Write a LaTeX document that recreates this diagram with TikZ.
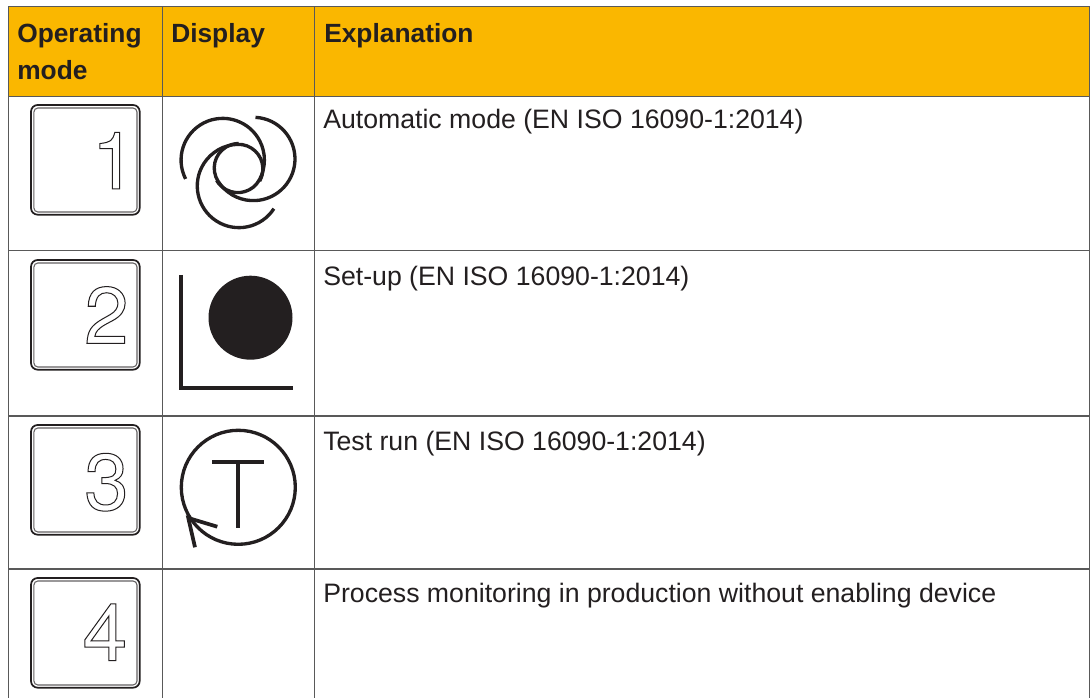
\documentclass[tikz,border=0pt]{standalone}
\usepackage{fontspec}
\usetikzlibrary{calc}
\setmainfont{Liberation Sans}
\newfontfamily\keyfont{TeX Gyre Heros}
\definecolor{hdr}{HTML}{FAB700}
\definecolor{ink}{HTML}{231F20}
\definecolor{gridc}{HTML}{595959}
\newcommand{\outl}[1]{\special{pdf:code q 1 Tr 0.75 w}#1\special{pdf:code Q}}
\tikzset{
  px/.style={x=0.75pt,y=-0.75pt},
  grid line/.style={draw=gridc,line width=1.1pt},
  head/.style={anchor=base west,inner sep=0pt,text=ink,font=\fontsize{19.75pt}{24pt}\selectfont\bfseries},
  body/.style={anchor=base west,inner sep=0pt,text=ink,font=\fontsize{20pt}{24pt}\selectfont},
  digit/.style={anchor=base east,inner sep=0pt,text=ink,font=\keyfont\fontsize{60pt}{60pt}\selectfont},
  keyout/.style={draw=ink,line width=1.3pt,rounded corners=5pt},
  keyin/.style={draw=ink!70,line width=0.8pt,rounded corners=3pt},
  sym/.style={draw=ink,line width=2.5pt},
}
\begin{document}
\begin{tikzpicture}[px]
\useasboundingbox (0,0) rectangle (1090,698);
\fill[white] (0,0) rectangle (1090,698);
\fill[hdr] (8.5,6.3) rectangle (1089.5,96.3);
\foreach \y in {6.3,96.3,250.7,416,569} \draw[grid line] (8.5,\y) -- (1089.5,\y);
\foreach \x in {8.5,162.3,314.7,1089.5} \draw[grid line] (\x,6.3) -- (\x,698);
\node[head] (h1) at (17,42.5) {Operating};
\node[head] (h1b) at (17,79.5) {mode};
\node[head] (h2) at (171,42.5) {Display};
\node[head] (h3) at (324,42.5) {Explanation};
\node[body] (t1) at (323,129) {Automatic mode (EN ISO 16090-1:2014)};
\node[body] (t2) at (323,286) {Set-up (EN ISO 16090-1:2014)};
\node[body] (t3) at (323,451) {Test run (EN ISO 16090-1:2014)};
\node[body] (t4) at (323,603) {Process monitoring in production without enabling device};
\foreach \y/\d/\bx/\by in {105/1/136.5/189, 260/2/129/343.3, 425/3/129/510, 578/4/127.5/660.7}{
  \draw[keyout] (31,\y) rectangle (139.7,\y+109.7);
  \draw[keyin] (33.9,\y+3) rectangle (137,\y+107);
  \node[digit] (k\d) at (\bx,\by) {\outl{\d}};
}
% automatic symbol: one spiral, repeated at 120 degree steps
\foreach \a in {0,-120,-240}{
  \begin{scope}[shift={(238.33,168.33)},x=1pt,y=1pt,rotate=\a]
    \draw[sym] ($(152:13.25pt)+(207:31.25pt)$) arc[start angle=207,end angle=-28,radius=31.25pt]
      arc[start angle=-28,end angle=-150,radius=18.4pt];
  \end{scope}
}
% set-up symbol
\coordinate (la) at (181,275); \coordinate (lb) at (181,387.7); \coordinate (lc) at (293,387.7);
\draw[sym,line width=3pt] (la) -- (lb) -- (lc);
\node[circle,fill=ink,draw=none,minimum size=63pt,inner sep=0pt] (dot) at (250.5,317.7) {};
% test run symbol
\node[circle,sym,minimum size=85.5pt,inner sep=0pt] (ring) at (238.3,487.3) {};
\coordinate (barl) at (212,461.7); \coordinate (barr) at (264,461.7);
\coordinate (stemt) at (238,461.7); \coordinate (stemb) at (238,528);
\coordinate (tipa) at (217.3,526.7); \coordinate (tip) at (188.3,518); \coordinate (tipb) at (195,547.3);
\draw[sym,line width=2.9pt] (barl) -- (barr);
\draw[sym,line width=2.9pt] (stemt) -- (stemb);
\draw[sym,line width=2.8pt,miter limit=10] (tipa) -- (tip) -- (tipb);
\end{tikzpicture}
\end{document}
